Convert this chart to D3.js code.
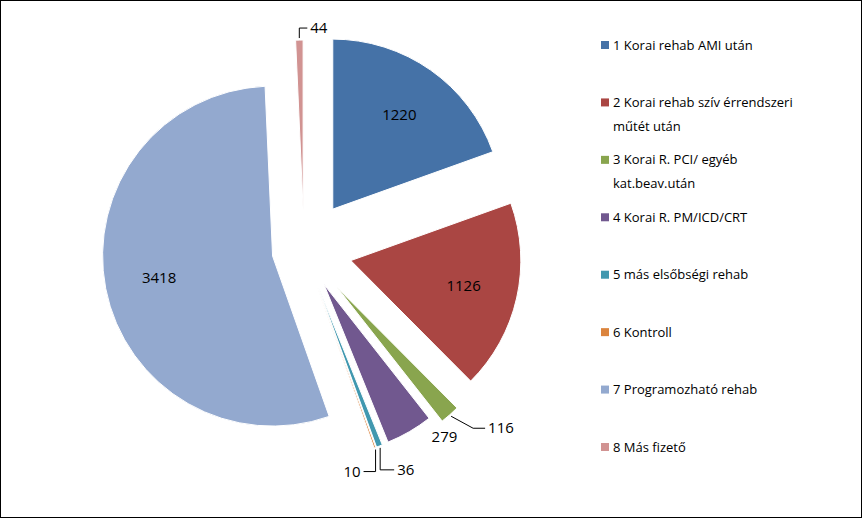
<!DOCTYPE html>
<html><head><meta charset="utf-8">
<script src="https://cdn.jsdelivr.net/npm/d3@7"></script>
<style>body{margin:0;background:#fff}svg{font-family:"Open Sans",Calibri,sans-serif}</style>
</head><body><div id="svg-container"></div>
<script>
// data
const categories = ["1 Korai rehab AMI után", "2 Korai rehab szív érrendszeri műtét után",
  "3 Korai R. PCI/ egyéb kat.beav.után", "4 Korai R. PM/ICD/CRT", "5 más elsőbségi rehab",
  "6 Kontroll", "7 Programozható rehab", "8 Más fizető"];
const legendLines = [["1 Korai rehab AMI után"], ["2 Korai rehab szív érrendszeri", "műtét után"],
  ["3 Korai R. PCI/ egyéb", "kat.beav.után"], ["4 Korai R. PM/ICD/CRT"], ["5 más elsőbségi rehab"],
  ["6 Kontroll"], ["7 Programozható rehab"], ["8 Más fizető"]];
const values = [1220, 1126, 116, 279, 36, 10, 3418, 44];
const colors = ["#4572A7", "#AA4643", "#89A54E", "#71588F", "#4198AF", "#DB843D", "#93A9CF", "#D19392"];

const width = 862, height = 518;
const cx = 304, cy = 250, r = 170;
const explode = [50, 48, 50, 40, 40, 40, 32, 40];

const svg = d3.select("#svg-container").append("svg").attr("width", width).attr("height", height);
svg.append("rect").attr("x", 0.5).attr("y", 0.5).attr("width", width - 1).attr("height", height - 1)
  .attr("fill", "#fff").attr("stroke", "#000");

const pie = d3.pie().sort(null).value((d) => d);
const arcs = pie(values);
const arc = d3.arc().innerRadius(0).outerRadius(r);

const off = (d, i, k) => {
  const a = (d.startAngle + d.endAngle) / 2;
  return [cx + k * Math.sin(a), cy - k * Math.cos(a)];
};

const g = svg.selectAll(".slice").data(arcs).enter().append("g")
  .attr("transform", (d, i) => `translate(${off(d, i, explode[i])})`);
g.append("path").attr("d", arc).attr("fill", (d, i) => colors[i]).attr("stroke", "#fff").attr("stroke-width", 1);

// labels: inside for big slices, outside with leader for small ones
const outside = { 2: [[0, 0], [22, 12], [34, 12]], 4: [[0, 0], [0, 22], [14, 22]],
  5: [[0, 0], [0, 22], [-12, 22]], 7: [[0, 0], [0, -10], [8, -10]] };
arcs.forEach((d, i) => {
  const a = (d.startAngle + d.endAngle) / 2;
  const [ox, oy] = off(d, i, explode[i]);
  let tx, ty, anchor = "middle";
  if (i === 0 || i === 1 || i === 6) {
    const k = r * 0.68;
    tx = ox + k * Math.sin(a); ty = oy - k * Math.cos(a);
  } else if (i === 3) {
    const k = r + 22;
    tx = ox + k * Math.sin(a) + 24; ty = oy - k * Math.cos(a) - 14;
  } else {
    const px = ox + (r + 2) * Math.sin(a), py = oy - (r + 2) * Math.cos(a);
    const pts = outside[i].map((p) => [px + p[0], py + p[1]]);
    svg.append("path").attr("d", d3.line()(pts)).attr("fill", "none").attr("stroke", "#000");
    const last = pts[pts.length - 1];
    anchor = outside[i][2][0] < outside[i][1][0] ? "end" : "start";
    tx = last[0] + (anchor === "end" ? -3 : 3); ty = last[1];
  }
  svg.append("text").attr("x", tx).attr("y", ty).attr("dy", "0.35em").attr("text-anchor", anchor)
    .attr("font-size", 15).attr("fill", "#000").text(values[i]);
});

// legend
const ly = d3.scalePoint().domain(d3.range(categories.length)).range([45, 447]);
categories.forEach((c, i) => {
  const y = ly(i);
  svg.append("rect").attr("x", 601).attr("y", y - 4).attr("width", 8).attr("height", 8).attr("fill", colors[i]);
  legendLines[i].forEach((t, j) => {
    svg.append("text").attr("x", 613).attr("y", y + j * 24).attr("dy", "0.35em")
      .attr("font-size", 13).attr("fill", "#000").text(t);
  });
});
</script></body></html>
